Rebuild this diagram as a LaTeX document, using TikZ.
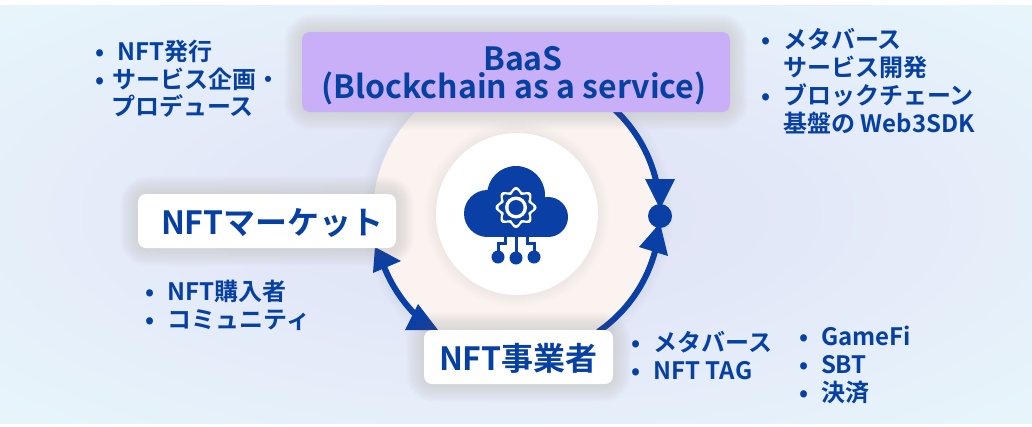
\documentclass[tikz,border=0pt]{standalone}
\usepackage{fontspec}
\setmainfont{Noto Sans CJK JP}[BoldFont={* Bold}]
\definecolor{ink}{HTML}{0640A3}
\definecolor{arcblue}{HTML}{0A3FA6}
\definecolor{purplebox}{HTML}{C9AFF8}
\definecolor{beige}{HTML}{FAF3EF}
\definecolor{bginner}{HTML}{DFE3F6}
\definecolor{bgmid}{HTML}{E3E8F8}
\definecolor{bgouter}{HTML}{E7F6FB}
\definecolor{shadowgray}{HTML}{8C8C8C}
\pgfdeclareradialshading{bgshade}{\pgfpoint{0bp}{0bp}}{
  color(0bp)=(bginner); color(14bp)=(bgmid); color(36bp)=(bgouter); color(100bp)=(bgouter)}
\tikzset{
  lbl/.style={inner sep=0pt,outer sep=0pt,anchor=base west,text=ink,font=\bfseries\fontsize{24}{28}\selectfont},
  boxlbl/.style={lbl,font=\bfseries\fontsize{32}{28}\selectfont},
  blt/.style={inner sep=0pt,outer sep=0pt,anchor=base,text=ink,font=\bfseries\fontsize{24}{28}\selectfont},
  arcline/.style={draw=arcblue,line width=6pt},
  tip/.style={fill=arcblue},
  iconfill/.style={fill=arcblue},
  iconline/.style={draw=arcblue,line width=3pt}
}
\newcommand{\softshadow}[4]{%
  \foreach \e in {1,...,18}{
    \fill[shadowgray,opacity=.011,rounded corners={10+\e}] ({#1-\e},{#2-\e}) rectangle ({#3+\e},{#4+\e});
  }}
\begin{document}
\begin{tikzpicture}[x=1pt,y=-1pt]
\useasboundingbox (0,0) rectangle (1032,426);
\fill[white] (0,0) rectangle (1032,426);
\shade[shading=bgshade] (0,5) rectangle (1032,423);
% central discs
\coordinate (hub) at (517,214);
\foreach \e in {1,...,12}{\fill[shadowgray,opacity=.006] (hub) circle[radius={144+\e}];}
\fill[beige] (hub) circle[radius=144];
\foreach \e in {1,...,12}{\fill[shadowgray,opacity=.005] (hub) circle[radius={81+\e}];}
\fill[white] (hub) circle[radius=81];
% arcs
\draw[arcline] plot[domain=-46.7:-12,samples=30] ({517+143*cos(\x)},{214+143*sin(\x)});
\draw[arcline] plot[domain=55.4:13,samples=30] ({517+143*cos(\x)},{214+143*sin(\x)});
\draw[arcline] plot[domain=158:130,samples=30] ({517+143*cos(\x)},{214+143*sin(\x)});
\coordinate (a1) at (645,179); \coordinate (a2) at (675,179); \coordinate (a3) at (660,209);
\fill[tip] (a1) -- (a2) -- (a3) -- cycle;
\coordinate (b1) at (639,247); \coordinate (b2) at (668,256); \coordinate (b3) at (660,223);
\fill[tip] (b1) -- (b2) -- (b3) -- cycle;
\coordinate (c1) at (373,273); \coordinate (c2) at (401,261); \coordinate (c3) at (375,247);
\fill[tip] (c1) -- (c2) -- (c3) -- cycle;
\coordinate (d1) at (405,330); \coordinate (d2) at (418,304); \coordinate (d3) at (438,330);
\fill[tip] (d1) -- (d2) -- (d3) -- cycle;
\fill[arcblue] (660,216) circle[radius=12];
% icon
\fill[iconfill] (487.5,213.5) circle[radius=23.5];
\fill[iconfill] (516,195) circle[radius=29];
\fill[iconfill] (548,217) circle[radius=20];
\fill[iconfill] (487,200) rectangle (548,237);
\fill[white] plot[domain=0:360,samples=145,smooth] ({516+(18.5+2*cos(8*\x))*cos(\x)},{207.5+(18.5+2*cos(8*\x))*sin(\x)}) -- cycle;
\fill[iconfill] plot[domain=0:360,samples=145,smooth] ({516+(15.5+2*cos(8*\x))*cos(\x)},{207.5+(15.5+2*cos(8*\x))*sin(\x)}) -- cycle;
\fill[white] (516,207.5) circle[radius=11];
\fill[iconfill] (516,207.5) circle[radius=7.5];
\draw[iconline] (505,236) -- (505,243) -- (498,243) -- (498,255);
\draw[iconline] (516,236) -- (516,255);
\draw[iconline] (527,236) -- (527,243) -- (534,243) -- (534,255);
\fill[iconfill] (498,257) circle[radius=6.5];
\fill[iconfill] (516,258) circle[radius=6.5];
\fill[iconfill] (534,257) circle[radius=6.5];
% boxes
\softshadow{302}{32}{730}{112}
\softshadow{138}{194}{396}{248}
\softshadow{424}{330}{613}{384}
\fill[purplebox,rounded corners=8pt] (302,32) rectangle (730,112);
\fill[white,rounded corners=8pt] (138,194) rectangle (396,248);
\fill[white,rounded corners=8pt] (424,330) rectangle (613,384);
% box labels
\node[boxlbl,anchor=base,align=center] (baas) at (514,98) {\hspace*{18pt}BaaS\\(Blockchain as a service)};
\node[boxlbl] (market) at (161,234) {NFTマーケット};
\node[boxlbl] (biz) at (439,370) {NFT事業者};
% top-left list
\node[blt] (b1a) at (100,60) {•};
\node[lbl] (t1a) at (117.5,60) {NFT発行};
\node[blt] (b1b) at (100,88) {•};
\node[lbl] (t1b) at (112,88) {サービス企画・};
\node[lbl] (t1c) at (111,115) {プロデュース};
% top-right list
\node[blt] (b2a) at (766,48) {•};
\node[lbl] (t2a) at (783,48) {メタバース};
\node[lbl] (t2b) at (783,76) {サービス開発};
\node[blt] (b2c) at (766,104) {•};
\node[lbl] (t2c) at (783,104) {ブロックチェーン};
\node[lbl] (t2d) at (783.5,132) {基盤の Web3SDK};
% lower-left list
\node[blt] (b3a) at (150,300) {•};
\node[lbl] (t3a) at (167.5,300) {NFT購入者};
\node[blt] (b3b) at (150,328) {•};
\node[lbl] (t3b) at (167.5,328) {コミュニティ};
% bottom lists
\node[blt] (b4a) at (636,351) {•};
\node[lbl] (t4a) at (653.5,351) {メタバース};
\node[blt] (b4b) at (636,379) {•};
\node[lbl] (t4b) at (653.5,379) {NFT TAG};
\node[blt] (b5a) at (804,345) {•};
\node[lbl] (t5a) at (821,345) {GameFi};
\node[blt] (b5b) at (804,373) {•};
\node[lbl] (t5b) at (821,373) {SBT};
\node[blt] (b5c) at (804,401) {•};
\node[lbl] (t5c) at (821,401) {決済};
\end{tikzpicture}
\end{document}
